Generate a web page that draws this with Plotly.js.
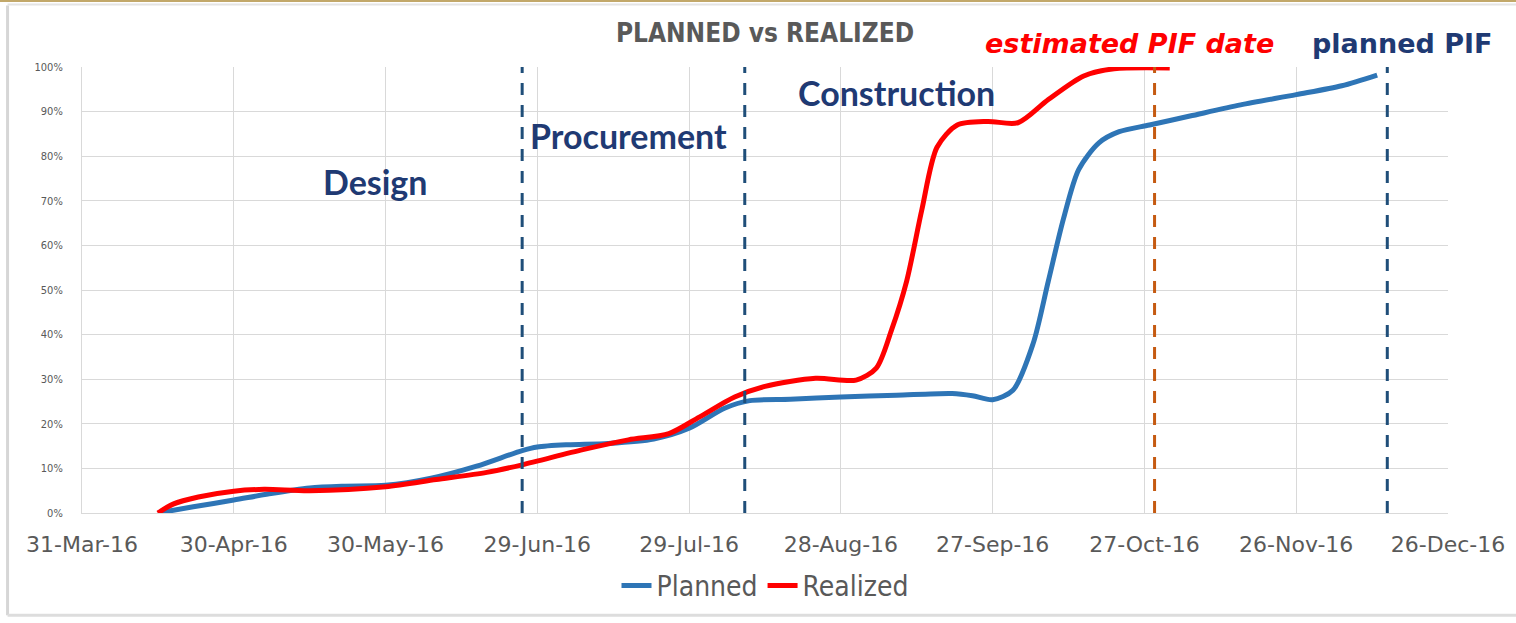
<!DOCTYPE html>
<html>
<head>
<meta charset="utf-8">
<script src="https://cdn.plot.ly/plotly-3.0.1.min.js"></script>
<style>
html,body{margin:0;padding:0;background:#fff;}
#chart{width:1516px;height:623px;}
</style>
</head>
<body>
<div id="chart"></div>
<script>
// ---- data ----
const plannedDates = ['2016-04-15','2016-04-22','2016-04-30','2016-05-07','2016-05-15','2016-05-22','2016-05-30','2016-06-08','2016-06-17','2016-06-26','2016-06-29','2016-07-05','2016-07-13','2016-07-22','2016-07-29','2016-08-05','2016-08-10','2016-08-18','2016-08-28','2016-09-08','2016-09-19','2016-09-23','2016-09-27','2016-10-01','2016-10-05','2016-10-08','2016-10-11','2016-10-14','2016-10-18','2016-10-22','2016-10-28','2016-11-05','2016-11-15','2016-11-26','2016-12-05','2016-12-12'];
const plannedPct = [0,1.4,2.9,4.3,5.6,6.0,6.2,7.8,10.5,14.0,14.8,15.3,15.6,16.6,19.0,23.5,25.2,25.5,26.0,26.4,26.8,26.3,25.4,27.5,38,52,66,77,83,85.5,87,89,91.5,93.8,95.8,98.2];

const realizedDates = ['2016-04-15','2016-04-18','2016-04-23','2016-04-30','2016-05-06','2016-05-15','2016-05-30','2016-06-09','2016-06-19','2016-06-26','2016-07-08','2016-07-17','2016-07-25','2016-07-31','2016-08-07','2016-08-13','2016-08-23','2016-08-31','2016-09-04','2016-09-07','2016-09-10','2016-09-13','2016-09-16','2016-09-20','2016-09-26','2016-10-02','2016-10-08','2016-10-15','2016-10-21','2016-11-01'];
const realizedPct = [0,2.0,3.6,4.9,5.3,5.0,5.9,7.5,9.1,10.8,14.2,16.4,17.8,21.5,26.0,28.4,30.2,29.8,32.5,41,52,68,82,87,87.8,87.5,92.7,98.0,99.6,99.8];

const tickDates = ['2016-03-31','2016-04-30','2016-05-30','2016-06-29','2016-07-29','2016-08-28','2016-09-27','2016-10-27','2016-11-26','2016-12-26'];
const tickLabels = ['31-Mar-16','30-Apr-16','30-May-16','29-Jun-16','29-Jul-16','28-Aug-16','27-Sep-16','27-Oct-16','26-Nov-16','26-Dec-16'];

const yTickVals = [0,10,20,30,40,50,60,70,80,90,100];
const yTickLabels = ['0%','10%','20%','30%','40%','50%','60%','70%','80%','90%','100%'];

const phaseLineDates = ['2016-06-26','2016-08-09','2016-10-29','2016-12-14'];
const phaseLineColors = ['#1F4E79','#1F4E79','#C55A11','#1F4E79'];

const phaseLabels = ['Design','Procurement','Construction'];
const phaseLabelDates = ['2016-05-28','2016-07-17','2016-09-08'];
const phaseLabelPct = [74.3,84.7,94.3];

const pifLabels = ['estimated PIF date','planned PIF'];
const pifLabelDates = ['2016-10-24','2016-12-17'];
const pifLabelColors = ['#FF0000','#1F3A73'];

// ---- chart ----
const navy = '#1F3A73';
const traces = [
  {x: plannedDates, y: plannedPct, name: 'Planned', type: 'scatter', mode: 'lines',
   line: {color: '#2E75B6', width: 5, shape: 'spline', smoothing: 0.8}},
  {x: realizedDates, y: realizedPct, name: 'Realized', type: 'scatter', mode: 'lines',
   line: {color: '#FF0000', width: 5, shape: 'spline', smoothing: 0.8}}
];

const shapes = phaseLineDates.map((d, i) => ({
  type: 'line', xref: 'x', yref: 'y', x0: d, x1: d, y0: 0, y1: 100,
  line: {color: phaseLineColors[i], width: 3, dash: '12px,10px'}
}));
// outer chart border
shapes.push({type: 'line', xref: 'paper', yref: 'paper', x0: -0.0545, x1: -0.0545, y0: -0.229, y1: 1.138,
  line: {color: '#D6D6D6', width: 3}});
shapes.push({type: 'line', xref: 'paper', yref: 'paper', x0: -0.0545, x1: 1.06, y0: -0.229, y1: -0.229,
  line: {color: '#DDDDDD', width: 3}});
shapes.push({type: 'line', xref: 'paper', yref: 'paper', x0: -0.0545, x1: 1.06, y0: 1.14, y1: 1.14,
  line: {color: '#E4E4E4', width: 2}});
shapes.push({type: 'rect', xref: 'paper', yref: 'paper', x0: -0.07, x1: 1.06, y0: 1.146, y1: 1.16,
  fillcolor: '#C2A86A', line: {width: 0}});

const annotations = [];
phaseLabels.forEach((t, i) => annotations.push({
  text: '<b>' + t + '</b>', x: phaseLabelDates[i], y: phaseLabelPct[i], xref: 'x', yref: 'y',
  showarrow: false, font: {family: 'Lato', size: 34, color: navy}
}));
pifLabels.forEach((t, i) => annotations.push({
  text: i === 0 ? '<b><i>' + t + '</i></b>' : '<b>' + t + '</b>',
  x: pifLabelDates[i], y: 1.052, xref: 'x', yref: 'paper', yanchor: 'middle',
  showarrow: false, font: {family: 'DejaVu Sans', size: 27, color: pifLabelColors[i]}
}));

const layout = {
  width: 1516, height: 623,
  margin: {l: 82, r: 68, t: 67, b: 106},
  paper_bgcolor: '#FFFFFF', plot_bgcolor: '#FFFFFF',
  title: {text: '<b>PLANNED vs REALIZED</b>', x: 0.5, xref: 'paper', y: 0.947, yref: 'container', yanchor: 'middle',
    font: {family: 'DejaVu Sans Condensed', size: 26, color: '#595959'}},
  showlegend: true,
  legend: {orientation: 'h', x: 0.5, xanchor: 'center', y: -0.163, yanchor: 'middle',
    font: {family: 'DejaVu Sans Condensed', size: 28, color: '#595959'}, itemwidth: 30, tracegroupgap: 0},
  xaxis: {type: 'date', range: ['2016-03-31', '2016-12-26'], tickvals: tickDates, ticktext: tickLabels,
    showgrid: true, gridcolor: '#D9D9D9', gridwidth: 1, zeroline: false,
    showline: true, linecolor: '#D9D9D9', linewidth: 1, ticks: '', ticklabelstandoff: 12,
    tickfont: {family: 'DejaVu Sans', size: 22, color: '#595959'}, fixedrange: true},
  yaxis: {range: [0, 100], tickvals: yTickVals, ticktext: yTickLabels,
    showgrid: true, gridcolor: '#D9D9D9', gridwidth: 1, zeroline: false,
    showline: true, linecolor: '#D9D9D9', ticks: '', ticklabelstandoff: 16,
    tickfont: {family: 'DejaVu Sans Condensed', size: 11, color: '#595959'}, fixedrange: true},
  shapes: shapes,
  annotations: annotations
};

Plotly.newPlot('chart', traces, layout, {displayModeBar: false, responsive: false});
</script>
</body>
</html>
